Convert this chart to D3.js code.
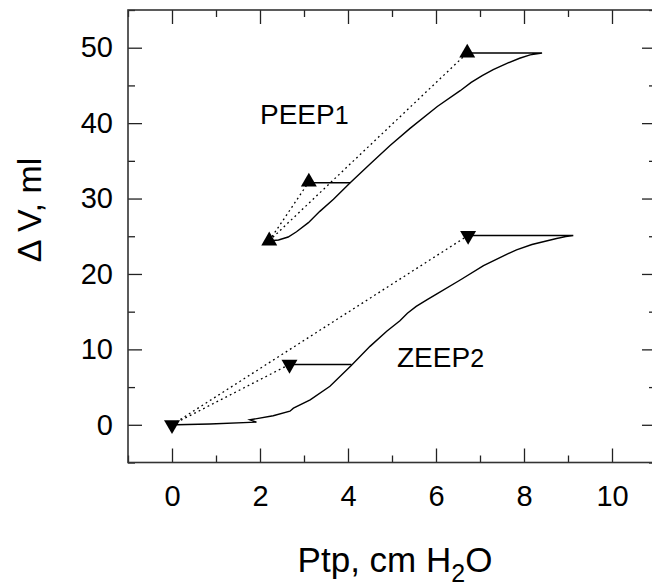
<!DOCTYPE html>
<html>
<head>
<meta charset="utf-8">
<script src="https://cdn.jsdelivr.net/npm/d3@7"></script>
<style>
  body { margin: 0; background: #fff; }
  svg { display: block; font-family: "Liberation Sans", Arial, sans-serif; }
</style>
</head>
<body>
<div class="chartBoard"></div>
<script>
// tick values
const xMajor = [0, 2, 4, 6, 8, 10];
const xMinor = [-1, 1, 3, 5, 7, 9, 11];
const yMajor = [0, 10, 20, 30, 40, 50];
const yMinor = [-5, 5, 15, 25, 35, 45, 55];

// PEEP1 loop (solid)
const peepX = [2.25, 2.42, 2.64, 2.83, 3.10, 3.36, 3.67, 4.05, 4.49, 4.95, 5.41, 6.03, 6.55, 6.8, 7.05, 7.3, 7.6, 7.9, 8.14, 8.41, 6.71];
const peepY = [24.4, 24.5, 24.9, 25.6, 26.8, 28.3, 29.9, 32.1, 34.5, 37.0, 39.3, 42.2, 44.3, 45.4, 46.3, 47.1, 47.9, 48.6, 49.05, 49.3, 49.3];
// PEEP1 triangles: start, mid, end
const peepMarkX = [2.21, 3.11, 6.71];
const peepMarkY = [24.4, 32.2, 49.3];
const peepStepX = [3.11, 4.05];
const peepStepY = [32.1, 32.1];

// ZEEP2 loop (solid)
const zeepX = [0.1, 0.86, 1.92, 1.77, 2.3, 2.68, 2.76, 3.14, 3.59, 4.08, 4.5, 4.88, 5.18, 5.35, 5.55, 5.8, 6.03, 6.55, 7.08, 7.57, 7.83, 8.18, 8.74, 8.95, 9.12, 6.73];
const zeepY = [0, 0.1, 0.35, 0.66, 1.2, 1.8, 2.2, 3.3, 5.1, 7.9, 10.4, 12.4, 13.8, 14.8, 15.7, 16.6, 17.4, 19.2, 21.1, 22.5, 23.2, 23.9, 24.7, 24.95, 25.1, 25.1];
// ZEEP2 triangles: start, mid, end
const zeepMarkX = [0, 2.67, 6.73];
const zeepMarkY = [0, 8.0, 25.1];
const zeepStepX = [2.67, 4.08];
const zeepStepY = [8.0, 8.0];

const w = 652, h = 586;
const pL = 128, pT = 10, pR = 656, pB = 462.5; // plot box

const svg = d3.select(".chartBoard")
    .append("svg")
    .attr("width", w)
    .attr("height", h);

const x = d3.scaleLinear().domain([-1, 11]).range([pL, pR]);
const y = d3.scaleLinear().domain([-5, 55]).range([pB, pT]);

// AXES - ticks point inward on all four sides
function styleAxis(g) {
    g.select(".domain").remove();
    g.selectAll("line").attr("stroke", "#222").attr("stroke-width", 1.3);
    g.selectAll("text").attr("fill", "#000").style("font-size", "29px");
}

svg.append("g").attr("transform", `translate(0,${pB})`)
    .call(d3.axisBottom(x).tickValues(xMinor).tickSize(-7).tickFormat(""))
    .call(styleAxis);
svg.append("g").attr("transform", `translate(0,${pB})`)
    .call(d3.axisBottom(x).tickValues(xMajor).tickSize(-14).tickPadding(23).tickFormat(d3.format("d")))
    .call(styleAxis);
svg.append("g").attr("transform", `translate(0,${pT})`)
    .call(d3.axisTop(x).tickValues(xMinor).tickSize(-7).tickFormat(""))
    .call(styleAxis);
svg.append("g").attr("transform", `translate(0,${pT})`)
    .call(d3.axisTop(x).tickValues(xMajor).tickSize(-14).tickFormat(""))
    .call(styleAxis);

svg.append("g").attr("transform", `translate(${pL},0)`)
    .call(d3.axisLeft(y).tickValues(yMinor).tickSize(-7).tickFormat(""))
    .call(styleAxis);
svg.append("g").attr("transform", `translate(${pL},0)`)
    .call(d3.axisLeft(y).tickValues(yMajor).tickSize(-14).tickPadding(15).tickFormat(d3.format("d")))
    .call(styleAxis);
svg.append("g").attr("transform", `translate(${pR},0)`)
    .call(d3.axisRight(y).tickValues(yMinor).tickSize(-7).tickFormat(""))
    .call(styleAxis);
svg.append("g").attr("transform", `translate(${pR},0)`)
    .call(d3.axisRight(y).tickValues(yMajor).tickSize(-14).tickFormat(""))
    .call(styleAxis);

// frame
svg.append("rect")
    .attr("x", pL).attr("y", pT)
    .attr("width", pR - pL).attr("height", pB - pT)
    .attr("fill", "none").attr("stroke", "#333").attr("stroke-width", 1.6);

const line = d3.line().x(d => x(d[0])).y(d => y(d[1]));
const zip = (a, b) => a.map((v, i) => [v, b[i]]);

function drawSeries(cx, cy, mx, my, sx, sy, rot) {
    // dotted chords from the first marker to the others
    [1, 2].forEach(i => {
        svg.append("path")
            .datum([[mx[0], my[0]], [mx[i], my[i]]])
            .attr("d", line)
            .attr("fill", "none").attr("stroke", "#000")
            .attr("stroke-width", 1.3).attr("stroke-dasharray", "1.8,3.2");
    });
    svg.append("path")
        .datum(zip(cx, cy))
        .attr("d", line)
        .attr("fill", "none").attr("stroke", "#000").attr("stroke-width", 1.4);
    svg.append("path")
        .datum(zip(sx, sy))
        .attr("d", line)
        .attr("fill", "none").attr("stroke", "#000").attr("stroke-width", 1.4);
    svg.selectAll(null)
        .data(zip(mx, my))
        .enter()
        .append("path")
        .attr("d", d3.symbol().type(d3.symbolTriangle).size(110))
        .attr("transform", d => `translate(${x(d[0])},${y(d[1])}) rotate(${rot})`)
        .attr("fill", "#000");
}

drawSeries(peepX, peepY, peepMarkX, peepMarkY, peepStepX, peepStepY, 0);
drawSeries(zeepX, zeepY, zeepMarkX, zeepMarkY, zeepStepX, zeepStepY, 180);

// labels
const peepLabel = svg.append("text").attr("x", 260).attr("y", 124).style("font-size", "28px");
peepLabel.append("tspan").text("PEEP");
peepLabel.append("tspan").style("font-size", "25px").text("1");
const zeepLabel = svg.append("text").attr("x", 397).attr("y", 367).style("font-size", "28px");
zeepLabel.append("tspan").text("ZEEP");
zeepLabel.append("tspan").style("font-size", "25px").text("2");

// axis titles
const xt = svg.append("text")
    .attr("x", 395).attr("y", 572)
    .attr("text-anchor", "middle")
    .style("font-size", "35px");
xt.append("tspan").text("Ptp, cm H");
xt.append("tspan").attr("dy", 10).style("font-size", "25px").text("2");
xt.append("tspan").attr("dy", -10).text("O");

svg.append("text")
    .attr("transform", "translate(41,210) rotate(-90)")
    .attr("text-anchor", "middle")
    .style("font-size", "34px")
    .text("\u0394 V, ml");
</script>
</body>
</html>
